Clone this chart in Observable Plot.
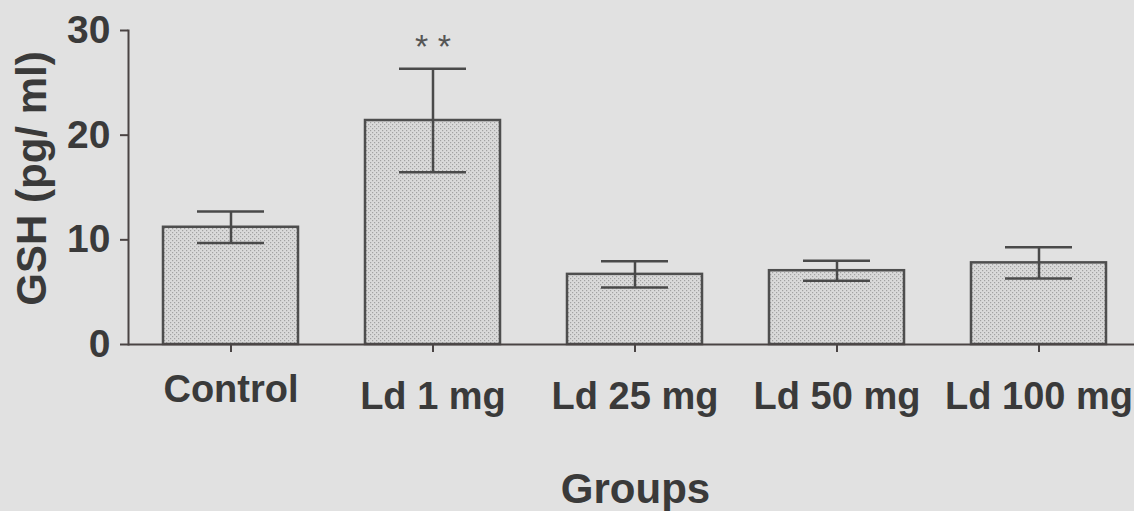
<!DOCTYPE html>
<html>
<head>
<meta charset="utf-8">
<script src="https://cdn.jsdelivr.net/npm/d3@7"></script>
<script src="https://cdn.jsdelivr.net/npm/@observablehq/plot@0.6"></script>
<style>
  html, body { margin: 0; padding: 0; background: #e1e1e1; overflow: hidden; }
  #chart svg { display: block; }
</style>
</head>
<body>
<svg width="0" height="0" style="position:absolute">
  <defs>
    <pattern id="stipple" width="4" height="4" patternUnits="userSpaceOnUse">
      <rect width="4" height="4" fill="#dadada"></rect>
      <rect x="0" y="0" width="1.2" height="1.2" fill="#a2a2a2"></rect>
      <rect x="2" y="2" width="1.2" height="1.2" fill="#a2a2a2"></rect>
    </pattern>
  </defs>
</svg>
<div id="chart"></div>
<script>
const groups = ["Control", "Ld 1 mg", "Ld 25 mg", "Ld 50 mg", "Ld 100 mg"];
const means = [11.2, 21.4, 6.7, 7.05, 7.8];
const sems = [1.5, 4.95, 1.25, 0.95, 1.5];
const yTicks = [0, 10, 20, 30];
const sigGroups = ["Ld 1 mg"];
const sigLabels = ["* *"];
const yTitle = "GSH (pg/ ml)";
const xTitle = "Groups";

const data = groups.map((g, i) => ({group: g, mean: means[i], lo: means[i] - sems[i], hi: means[i] + sems[i]}));
const sig = sigGroups.map((g, i) => {
  const d = data.find(e => e.group === g);
  return {group: g, y: d.hi, label: sigLabels[i]};
});

const axisColor = "#4a4444";
const textColor = "#3a3a3a";
const font = "'Liberation Sans', Arial, sans-serif";

const chart = Plot.plot({
  width: 1134,
  height: 511,
  marginLeft: 128,
  marginRight: 0,
  marginTop: 30,
  marginBottom: 167,
  style: {background: "#e1e1e1", color: axisColor, fontFamily: font},
  x: {domain: groups, range: [128, 1142], paddingInner: 0.33, paddingOuter: 0.165, axis: null},
  y: {domain: [0, 30], axis: null},
  marks: [
    Plot.barY(data, {x: "group", y: "mean", fill: "url(#stipple)", stroke: "#4e4e4e", strokeWidth: 2.5}),
    Plot.ruleX(data, {x: "group", y1: "lo", y2: "hi", stroke: "#4a4a4a", strokeWidth: 2.5}),
    Plot.tickY(data, {x: "group", y: "hi", insetLeft: 34, insetRight: 34, stroke: "#4a4a4a", strokeWidth: 2.5}),
    Plot.tickY(data, {x: "group", y: "lo", insetLeft: 34, insetRight: 34, stroke: "#4a4a4a", strokeWidth: 2.5}),
    Plot.ruleY([0], {stroke: axisColor, strokeWidth: 2}),
    Plot.frame({anchor: "left", stroke: axisColor, strokeWidth: 2}),
    Plot.axisY(yTicks, {tickSize: 8, tickPadding: 10, fontSize: 39, fontWeight: "bold", fill: textColor, stroke: axisColor, strokeWidth: 2, label: null}),
    Plot.axisX(groups.slice(0, 1), {tickSize: 8, tickPadding: 23, fontSize: 38, fontWeight: "bold", fill: textColor, stroke: axisColor, strokeWidth: 2, label: null}),
    Plot.axisX(groups.slice(1), {tickSize: 8, tickPadding: 30, fontSize: 38, fontWeight: "bold", fill: textColor, stroke: axisColor, strokeWidth: 2, label: null}),
    Plot.text(sig, {x: "group", y: "y", text: "label", dy: -22, fontSize: 34, fill: "#555555"}),
    Plot.text([yTitle], {frameAnchor: "left", textAnchor: "middle", text: d => d, rotate: -90, dx: -96, dy: -9, fontSize: 42, fontWeight: "bold", fill: textColor}),
    Plot.text([xTitle], {frameAnchor: "bottom", text: d => d, lineAnchor: "bottom", dx: 4, dy: 158, fontSize: 42, fontWeight: "bold", fill: textColor})
  ]
});
document.getElementById("chart").append(chart);
</script>
</body>
</html>
